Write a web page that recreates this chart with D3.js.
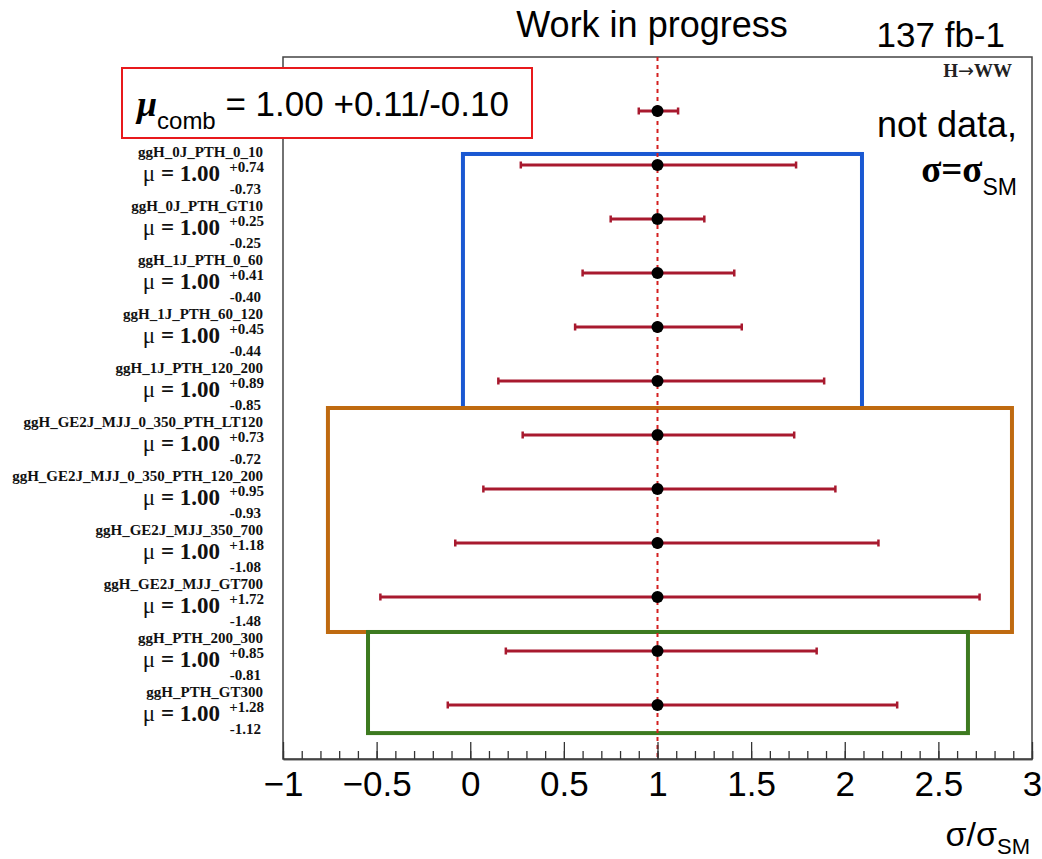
<!DOCTYPE html>
<html>
<head>
<meta charset="utf-8">
<script src="https://cdn.jsdelivr.net/npm/d3@7"></script>
<style>
  body { margin: 0; background: #fff; }
  svg { display: block; }
  .sans { font-family: "Liberation Sans", Arial, sans-serif; }
  .serif { font-family: "Liberation Serif", "Times New Roman", serif; }
</style>
</head>
<body>
<div id="chart"></div>
<script>
// POI names, best fit values and errors (top row is the combined mu)
var categories = [
  'comb',
  'ggH_0J_PTH_0_10',
  'ggH_0J_PTH_GT10',
  'ggH_1J_PTH_0_60',
  'ggH_1J_PTH_60_120',
  'ggH_1J_PTH_120_200',
  'ggH_GE2J_MJJ_0_350_PTH_LT120',
  'ggH_GE2J_MJJ_0_350_PTH_120_200',
  'ggH_GE2J_MJJ_350_700',
  'ggH_GE2J_MJJ_GT700',
  'ggH_PTH_200_300',
  'ggH_PTH_GT300'
];
var muValues = [1.00, 1.00, 1.00, 1.00, 1.00, 1.00, 1.00, 1.00, 1.00, 1.00, 1.00, 1.00];
var errUp    = [0.11, 0.74, 0.25, 0.41, 0.45, 0.89, 0.73, 0.95, 1.18, 1.72, 0.85, 1.28];
var errDown  = [0.10, 0.73, 0.25, 0.40, 0.44, 0.85, 0.72, 0.93, 1.08, 1.48, 0.81, 1.12];

var xTicks = [-1, -0.5, 0, 0.5, 1, 1.5, 2, 2.5, 3];

// grouping boxes: x extent in sigma/sigma_SM, y extent in row units
var groupNames = ['0J/1J', 'GE2J', 'PTH'];
var groupX = [[-0.039, 2.092], [-0.76, 2.893], [-0.546, 2.658]];
var groupRows = [[0.796, 5.5], [5.5, 9.648], [9.648, 11.52]];
var groupColors = ['#1a58d2', '#bf6a10', '#3d7a20'];

var W = 1042, H = 859;
var plot = {left: 283, right: 1032, top: 57, bottom: 759};

var svg = d3.select('#chart').append('svg')
  .attr('width', W)
  .attr('height', H);

var x = d3.scaleLinear().domain([-1, 3]).range([plot.left, plot.right]);
var y = d3.scaleLinear().domain([0, 11]).range([111, 705]);

// frame
svg.append('rect')
  .attr('x', plot.left).attr('y', plot.top)
  .attr('width', plot.right - plot.left)
  .attr('height', plot.bottom - plot.top)
  .attr('fill', 'none')
  .attr('stroke', '#444')
  .attr('stroke-width', 1.5);

// group boxes
svg.selectAll('rect.group')
  .data(groupNames)
  .enter().append('rect')
  .attr('class', 'group')
  .attr('x', function(d, i) { return x(groupX[i][0]); })
  .attr('y', function(d, i) { return y(groupRows[i][0]); })
  .attr('width', function(d, i) { return x(groupX[i][1]) - x(groupX[i][0]); })
  .attr('height', function(d, i) { return y(groupRows[i][1]) - y(groupRows[i][0]); })
  .attr('fill', 'none')
  .attr('stroke', function(d, i) { return groupColors[i]; })
  .attr('stroke-width', 4);

// SM line
svg.append('line')
  .attr('x1', x(1)).attr('x2', x(1))
  .attr('y1', plot.top).attr('y2', plot.bottom)
  .attr('stroke', '#d42020')
  .attr('stroke-width', 2)
  .attr('stroke-dasharray', '4,4');

// x axis, ticks pointing up into the frame
var axisG = svg.append('g')
  .attr('transform', 'translate(0,' + plot.bottom + ')');

axisG.call(d3.axisBottom(x)
    .tickValues(d3.range(-1, 3.0001, 0.1))
    .tickSizeInner(-8).tickSizeOuter(0)
    .tickFormat(''));

axisG.append('g').call(d3.axisBottom(x)
    .tickValues(xTicks)
    .tickSizeInner(-17).tickSizeOuter(0)
    .tickPadding(12)
    .tickFormat(d3.format('')));

axisG.selectAll('.domain').attr('stroke', '#444').attr('stroke-width', 1.5);
axisG.selectAll('.tick line').attr('stroke', '#333').attr('stroke-width', 1.3);
axisG.selectAll('.tick text')
  .attr('class', 'sans')
  .attr('fill', '#000')
  .style('font-size', '35px');

// axis title
var xt = svg.append('text')
  .attr('class', 'sans')
  .attr('x', plot.right - 2)
  .attr('y', 846)
  .attr('text-anchor', 'end')
  .attr('fill', '#000')
  .style('font-size', '34px');
xt.append('tspan').text('σ/σ');
xt.append('tspan').attr('dy', 8).style('font-size', '22px').text('SM');

// error bars
var bars = svg.selectAll('g.poi')
  .data(categories)
  .enter().append('g')
  .attr('class', 'poi');

var barColor = '#a8192e';
bars.append('line')
  .attr('x1', function(d, i) { return x(muValues[i] - errDown[i]); })
  .attr('x2', function(d, i) { return x(muValues[i] + errUp[i]); })
  .attr('y1', function(d, i) { return y(i); })
  .attr('y2', function(d, i) { return y(i); })
  .attr('stroke', barColor)
  .attr('stroke-width', 3);

bars.append('line')
  .attr('x1', function(d, i) { return x(muValues[i] - errDown[i]); })
  .attr('x2', function(d, i) { return x(muValues[i] - errDown[i]); })
  .attr('y1', function(d, i) { return y(i) - 3.5; })
  .attr('y2', function(d, i) { return y(i) + 3.5; })
  .attr('stroke', barColor)
  .attr('stroke-width', 2.5);

bars.append('line')
  .attr('x1', function(d, i) { return x(muValues[i] + errUp[i]); })
  .attr('x2', function(d, i) { return x(muValues[i] + errUp[i]); })
  .attr('y1', function(d, i) { return y(i) - 3.5; })
  .attr('y2', function(d, i) { return y(i) + 3.5; })
  .attr('stroke', barColor)
  .attr('stroke-width', 2.5);

bars.append('circle')
  .attr('cx', function(d, i) { return x(muValues[i]); })
  .attr('cy', function(d, i) { return y(i); })
  .attr('r', 6)
  .attr('fill', '#000');

// labels on the left (the combined row is covered by the red box)
var labels = svg.selectAll('g.label')
  .data(categories.slice(1))
  .enter().append('g')
  .attr('class', 'label serif')
  .attr('fill', '#111');

function rowY(i) { return y(i + 1); }

labels.append('text')
  .attr('x', 263)
  .attr('y', function(d, i) { return rowY(i) - 8; })
  .attr('text-anchor', 'end')
  .style('font-size', '15px')
  .style('font-weight', 'bold')
  .text(function(d) { return d; });

var muText = labels.append('text')
  .attr('x', 220)
  .attr('y', function(d, i) { return rowY(i) + 16; })
  .attr('text-anchor', 'end')
  .style('font-size', '23px');
muText.append('tspan').text('μ');
muText.append('tspan')
  .style('font-weight', 'bold')
  .text(function(d, i) { return ' = ' + muValues[i + 1].toFixed(2); });

labels.append('text')
  .attr('x', 264)
  .attr('y', function(d, i) { return rowY(i) + 7; })
  .attr('text-anchor', 'end')
  .style('font-size', '15px')
  .style('font-weight', 'bold')
  .text(function(d, i) { return '+' + errUp[i + 1].toFixed(2); });

labels.append('text')
  .attr('x', 261)
  .attr('y', function(d, i) { return rowY(i) + 29; })
  .attr('text-anchor', 'end')
  .style('font-size', '15px')
  .style('font-weight', 'bold')
  .text(function(d, i) { return '-' + errDown[i + 1].toFixed(2); });

// combined result box
svg.append('rect')
  .attr('x', 122).attr('y', 68)
  .attr('width', 410).attr('height', 70)
  .attr('fill', '#fff')
  .attr('stroke', '#e8191c')
  .attr('stroke-width', 2);

var comb = svg.append('text')
  .attr('x', 137).attr('y', 116);
comb.append('tspan')
  .attr('class', 'serif')
  .style('font-size', '36px')
  .style('font-weight', 'bold')
  .style('font-style', 'italic')
  .text('μ');
comb.append('tspan')
  .attr('class', 'sans')
  .attr('dy', 13)
  .style('font-size', '24px')
  .text('comb');
comb.append('tspan')
  .attr('class', 'sans')
  .attr('dy', -13)
  .style('font-size', '35px')
  .text(' = ' + muValues[0].toFixed(2) + ' +' + errUp[0].toFixed(2) + '/-' + errDown[0].toFixed(2));

// header texts
svg.append('text')
  .attr('class', 'sans')
  .attr('x', 652).attr('y', 37)
  .attr('text-anchor', 'middle')
  .style('font-size', '36px')
  .text('Work in progress');

svg.append('text')
  .attr('class', 'sans')
  .attr('x', 1005).attr('y', 47)
  .attr('text-anchor', 'end')
  .style('font-size', '35px')
  .text('137 fb-1');

var hww = svg.append('text')
  .attr('class', 'serif')
  .attr('x', 1012).attr('y', 77)
  .attr('text-anchor', 'end')
  .style('font-size', '19px')
  .style('font-weight', 'bold')
  .attr('fill', '#222');
hww.append('tspan').text('H');
hww.append('tspan').style('font-family', '"DejaVu Sans", sans-serif').style('font-weight', 'normal').text('→');
hww.append('tspan').text('WW');

svg.append('text')
  .attr('class', 'sans')
  .attr('x', 1017).attr('y', 137)
  .attr('text-anchor', 'end')
  .style('font-size', '36px')
  .text('not data,');

var sm = svg.append('text')
  .attr('x', 1017).attr('y', 182)
  .attr('text-anchor', 'end');
sm.append('tspan')
  .attr('class', 'serif')
  .style('font-size', '37px')
  .style('font-weight', 'bold')
  .text('σ=σ');
sm.append('tspan')
  .attr('class', 'sans')
  .attr('dy', 13)
  .style('font-size', '23px')
  .text('SM');
</script>
</body>
</html>
